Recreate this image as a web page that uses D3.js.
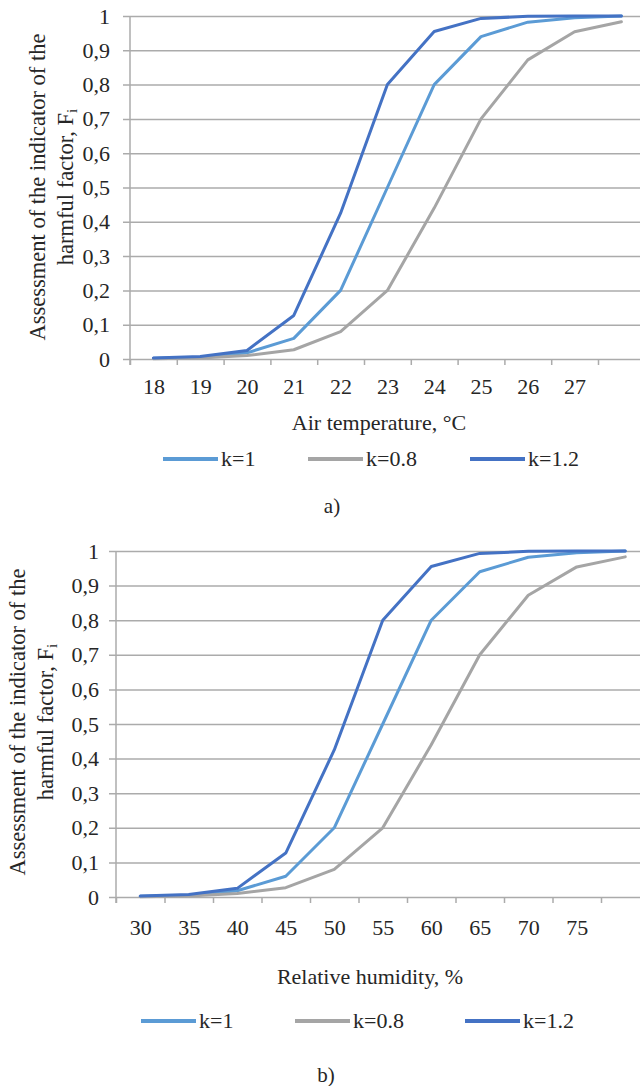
<!DOCTYPE html>
<html>
<head>
<meta charset="utf-8">
<script src="https://cdn.jsdelivr.net/npm/d3@7"></script>
<style>
  body { margin: 0; background: #fff; }
  svg { display: block; }
</style>
</head>
<body>
<div id="chart"></div>
<script>
// category labels (last category has no label in the original)
const tempLabels = ["18", "19", "20", "21", "22", "23", "24", "25", "26", "27", ""];
const humidityLabels = ["30", "35", "40", "45", "50", "55", "60", "65", "70", "75", ""];
const seriesNames = ["k=1", "k=0.8", "k=1.2"];
const seriesColors = ["#5b9bd5", "#a5a5a5", "#4472c4"];

// F_i values, one per category
const k1Values  = [0.002, 0.005, 0.018, 0.06, 0.2, 0.5, 0.8, 0.94, 0.982, 0.995, 1.0];
const k08Values = [0.001, 0.003, 0.01, 0.027, 0.08, 0.2, 0.44, 0.7, 0.872, 0.954, 0.983];
const k12Values = [0.003, 0.007, 0.025, 0.127, 0.425, 0.8, 0.955, 0.993, 0.999, 1.0, 1.0];
const yTicks = [0, 0.1, 0.2, 0.3, 0.4, 0.5, 0.6, 0.7, 0.8, 0.9, 1];

const W = 640, H = 1086;
const FONT = '"Liberation Serif", "Times New Roman", serif';
const TEXT_COLOR = "#262626";
const gridColor = "#ababab";

const svg = d3.select("#chart").append("svg")
  .attr("width", W)
  .attr("height", H)
  .style("font-family", FONT);

function styleText(sel, size) {
  sel.style("font-family", FONT).style("font-size", size + "px").attr("fill", TEXT_COLOR);
}

function drawChart(cfg) {
  const n = cfg.labels.length;
  const x = d3.scaleLinear().domain([0, n]).range([cfg.left, cfg.right]);
  const y = d3.scaleLinear().domain([0, 1]).range([cfg.bottom, cfg.top]);
  const g = svg.append("g");

  // horizontal gridlines
  g.append("g")
    .attr("transform", `translate(${cfg.left - 7},0)`)
    .call(d3.axisRight(y).tickValues(yTicks).tickSize(W - cfg.left + 7).tickFormat(""))
    .call(a => a.select(".domain").remove())
    .call(a => a.selectAll("line").attr("stroke", gridColor).attr("stroke-width", 1.5));

  // y axis labels
  g.append("g")
    .attr("transform", `translate(${cfg.left},0)`)
    .call(d3.axisLeft(y).tickValues(yTicks).tickSize(0).tickPadding(cfg.yPad)
      .tickFormat(d => d3.format(".1~f")(d).replace(".", ",")))
    .call(a => a.select(".domain").remove())
    .call(a => styleText(a.selectAll("text"), 22));

  // vertical axis line
  g.append("line")
    .attr("x1", cfg.left).attr("x2", cfg.left)
    .attr("y1", cfg.top).attr("y2", cfg.bottom + 6)
    .attr("stroke", gridColor).attr("stroke-width", 1.5);

  // x tick marks between categories
  g.append("g")
    .attr("transform", `translate(0,${cfg.bottom})`)
    .call(d3.axisBottom(x).tickValues(d3.range(0, n + 1)).tickSize(6).tickSizeOuter(0).tickFormat(""))
    .call(a => a.select(".domain").remove())
    .call(a => a.selectAll("line").attr("stroke", gridColor).attr("stroke-width", 1.5));

  // x category labels
  g.append("g")
    .attr("transform", `translate(0,${cfg.bottom})`)
    .call(d3.axisBottom(x).tickValues(d3.range(n).map(i => i + 0.5)).tickSize(0)
      .tickPadding(cfg.xPad).tickFormat((d, i) => cfg.labels[i]))
    .call(a => a.select(".domain").remove())
    .call(a => styleText(a.selectAll("text"), 22));

  // series lines
  const line = d3.line().x((d, i) => x(i + 0.5)).y(d => y(d));
  cfg.series.forEach((vals, s) => {
    g.append("path")
      .datum(vals)
      .attr("d", line)
      .attr("fill", "none")
      .attr("stroke", seriesColors[s])
      .attr("stroke-width", 3)
      .attr("stroke-linejoin", "round")
      .attr("stroke-linecap", "round");
  });

  // y axis title (two lines, rotated)
  const yt = g.append("text")
    .attr("transform", `translate(${cfg.yTitleX},${cfg.yTitleY}) rotate(-90)`)
    .attr("text-anchor", "middle");
  styleText(yt, 22.5);
  yt.append("tspan").attr("x", 0).attr("y", 0).text("Assessment of the indicator of the");
  yt.append("tspan").attr("x", 0).attr("y", 28).text("harmful factor, F");
  yt.append("tspan").attr("dy", 4).style("font-size", "15px").text("i");

  // x axis title
  styleText(g.append("text")
    .attr("x", cfg.xTitleX).attr("y", cfg.xTitleY)
    .attr("text-anchor", "middle")
    .text(cfg.xTitle), 22);

  // legend
  seriesNames.forEach((name, s) => {
    const lx = cfg.legendX[s];
    g.append("line")
      .attr("x1", lx).attr("x2", lx + 55)
      .attr("y1", cfg.legendY).attr("y2", cfg.legendY)
      .attr("stroke", seriesColors[s]).attr("stroke-width", 4);
    styleText(g.append("text")
      .attr("x", lx + 58).attr("y", cfg.legendY + 7)
      .text(name), 22);
  });

  // caption
  styleText(g.append("text")
    .attr("x", cfg.capX).attr("y", cfg.capY)
    .attr("text-anchor", "middle")
    .text(cfg.caption), 21);
}

drawChart({
  labels: tempLabels,
  series: [k1Values, k08Values, k12Values],
  left: 130, right: 644.8, top: 16, bottom: 359,
  yPad: 20, xPad: 19,
  yTitleX: 45, yTitleY: 187,
  xTitle: "Air temperature, °C", xTitleX: 379, xTitleY: 430,
  legendX: [163, 308, 470], legendY: 459,
  caption: "a)", capX: 332, capY: 513
});

drawChart({
  labels: humidityLabels,
  series: [k1Values, k08Values, k12Values],
  left: 116, right: 649.5, top: 551, bottom: 897,
  yPad: 17, xPad: 22,
  yTitleX: 25, yTitleY: 722,
  xTitle: "Relative humidity, %", xTitleX: 370, xTitleY: 984,
  legendX: [141, 295, 465], legendY: 1021,
  caption: "b)", capX: 326, capY: 1082
});
</script>
</body>
</html>
